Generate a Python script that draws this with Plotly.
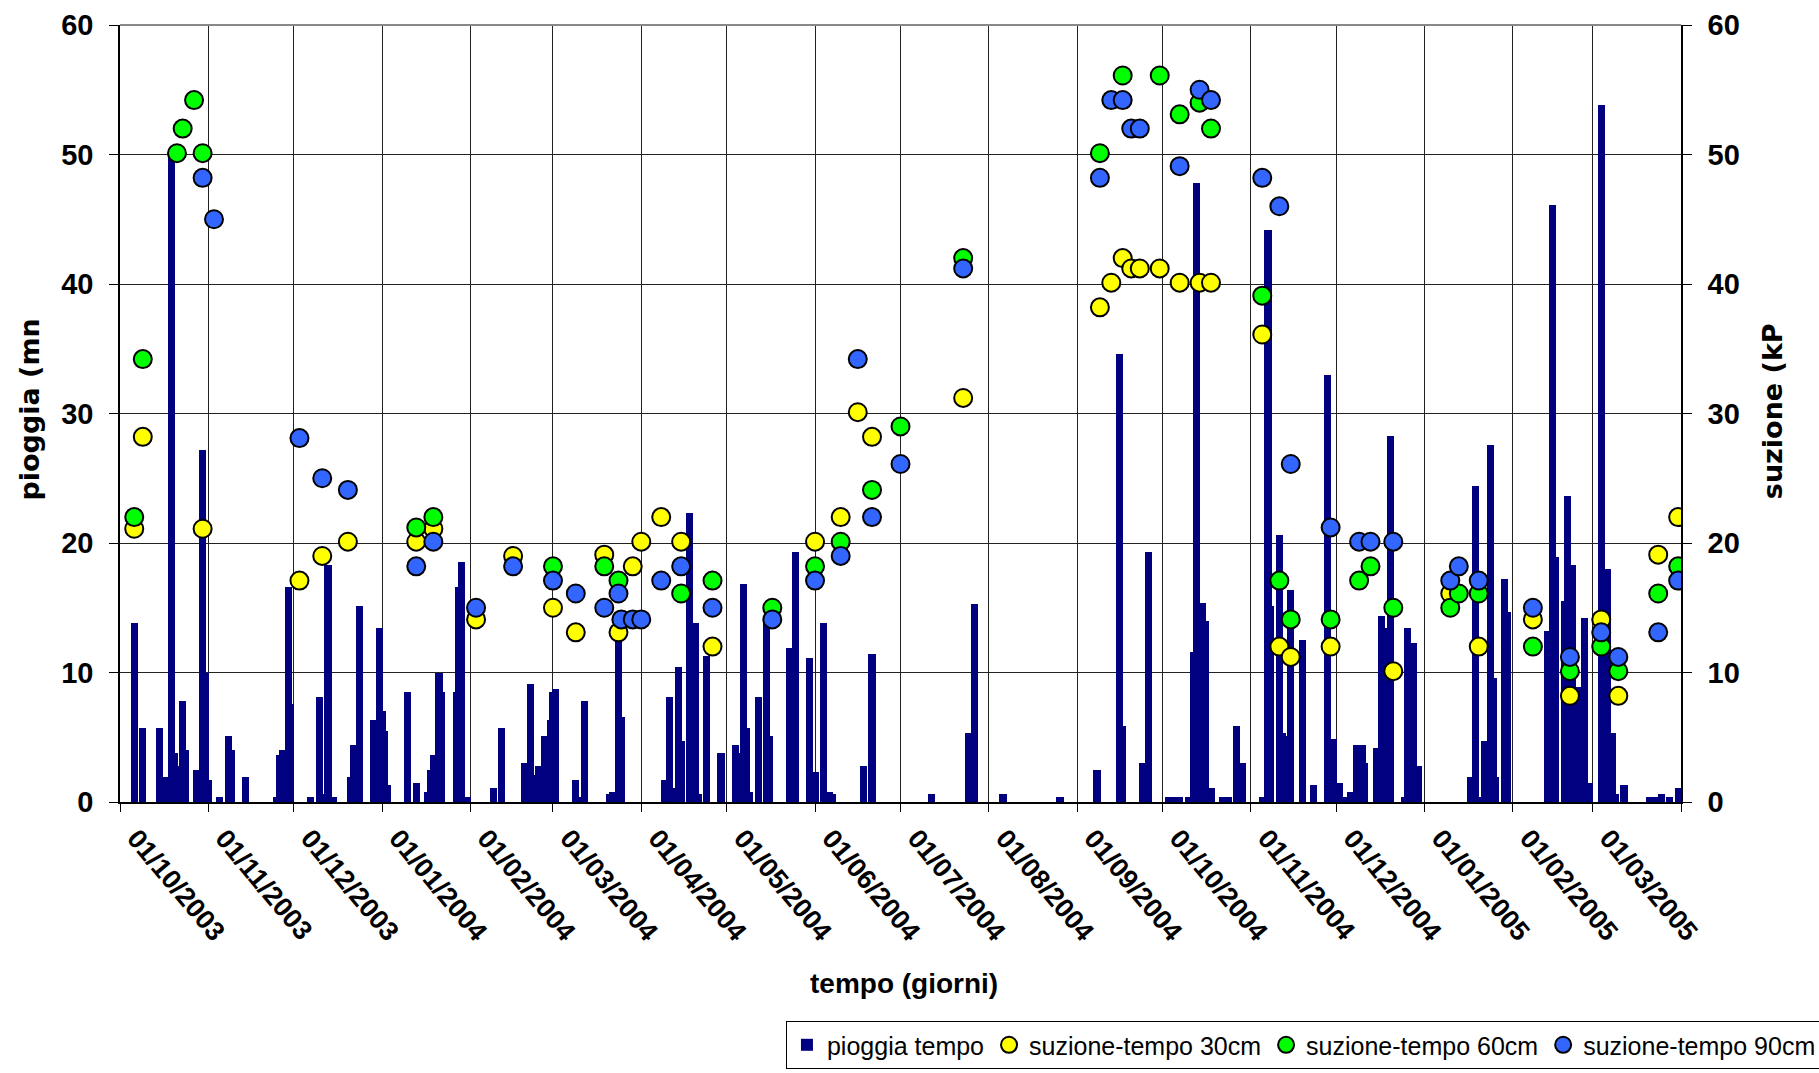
import pandas as pd
import plotly.graph_objects as go

START = "2003-10-01"

# rainfall bars: day number (days since 01/10/2003) and mm
rain_day = [5, 8, 14, 16, 18, 19, 20, 22, 23, 27, 29, 30, 31, 35, 38, 39, 44,
            55, 56, 57, 59, 60, 67, 70, 71, 73, 75, 81, 82, 84, 89, 91, 92, 93, 94,
            101, 104, 108, 109, 110, 112, 113, 118, 119, 120, 122, 131, 134,
            142, 144, 146, 147, 149, 151, 152, 153, 160, 161, 163, 172, 173, 175, 176,
            191, 193, 194, 196, 197, 200, 202, 203, 206, 211, 216, 217, 219, 220, 221,
            224, 227, 228, 235, 237, 242, 244, 247, 249, 250, 261, 264, 285,
            298, 300, 310, 330, 343, 351, 352, 359, 361, 368, 370, 372, 375,
            377, 378, 380, 381, 383, 387, 389, 392, 394, 401, 403, 404, 407, 408, 409,
            411, 415, 419, 424, 426, 428, 430, 432, 434, 436, 437, 441, 443, 444, 446,
            451, 452, 454, 456, 474, 476, 477, 479, 481, 482, 483, 486, 487,
            501, 503, 504, 507, 508, 510, 511, 512, 514, 516, 520, 522, 524, 525, 528,
            537, 539, 541, 544, 547]
rain_mm = [13.8, 5.7, 5.7, 1.9, 50.0, 3.8, 2.75, 7.8, 4.0, 2.5, 27.2, 10.0, 1.7, 0.4, 5.1, 4.0, 1.9,
           0.4, 3.6, 4.0, 16.6, 7.6, 0.4, 8.1, 0.6, 18.3, 0.4, 1.9, 4.4, 15.1, 6.3, 13.4, 7.0, 5.5, 1.3,
           8.5, 1.5, 0.8, 2.5, 3.6, 10.0, 8.5, 8.5, 16.6, 18.5, 0.4, 1.1, 5.7,
           3.0, 9.1, 2.1, 2.75, 5.1, 6.3, 8.5, 8.7, 1.7, 0.4, 7.8, 0.6, 0.8, 14.2, 6.6,
           1.7, 8.1, 1.05, 10.4, 4.7, 22.3, 13.8, 0.6, 11.3, 3.8, 4.4, 3.8, 16.8, 5.7, 0.8,
           8.1, 14.2, 5.1, 11.9, 19.3, 11.1, 2.3, 13.8, 0.8, 0.6, 2.75, 11.4, 0.6,
           5.3, 15.3, 0.6, 0.4, 2.5, 34.6, 5.9, 3.0, 19.3, 0.4, 0.4, 0.4, 0.4,
           11.6, 47.8, 15.4, 14.0, 1.05, 0.4, 0.4, 5.9, 3.0, 0.4, 44.2, 15.1, 20.6, 5.3, 5.1,
           16.4, 12.5, 1.3, 33.0, 4.9, 1.5, 0.4, 0.8, 4.4, 4.4, 3.0, 4.2, 14.4, 13.4, 28.3,
           0.4, 13.4, 12.3, 2.75, 1.9, 24.4, 0.4, 4.7, 27.6, 9.6, 1.9, 17.2, 14.7,
           13.2, 46.1, 18.9, 15.5, 23.6, 18.3, 3.8, 8.9, 14.2, 1.5, 53.8, 18.0, 5.3, 0.6, 1.3,
           0.4, 0.4, 0.6, 0.4, 1.05]

# suction at 30 cm (kPa)
s30_day = [5, 8, 29, 63, 71, 80, 104, 110, 125, 138, 152, 160, 170, 175, 180, 183, 190, 197,
           208, 244, 253, 259, 264, 296, 344, 348, 352, 355, 358, 365, 372, 379, 383,
           401, 407, 411, 425, 447, 467, 477, 496, 509, 520, 526, 540, 547]
s30_val = [21.1, 28.2, 21.1, 17.1, 19.0, 20.1, 20.1, 21.1, 14.1, 19.0, 15.0, 13.1, 19.1, 13.1,
           18.2, 20.1, 22.0, 20.1, 12.0, 20.1, 22.0, 30.1, 28.2, 31.2, 38.2, 40.1, 42.0, 41.2,
           41.2, 41.2, 40.1, 40.1, 40.1, 36.1, 12.0, 11.2, 12.0, 10.1, 16.1, 12.0, 14.1, 8.2,
           14.1, 8.2, 19.1, 22.0]

# suction at 60 cm (kPa)
s60_day = [5, 8, 20, 22, 26, 29, 104, 110, 152, 170, 175, 197, 208, 229, 244, 253, 264, 274,
           296, 344, 352, 365, 372, 379, 383, 401, 407, 411, 425, 435, 439, 447,
           467, 470, 477, 496, 509, 520, 526, 540, 547]
s60_val = [22.0, 34.2, 50.1, 52.0, 54.2, 50.1, 21.2, 22.0, 18.2, 18.2, 17.1, 16.1, 17.1, 15.0,
           18.2, 20.1, 24.1, 29.0, 42.0, 50.1, 56.1, 56.1, 53.1, 54.0, 52.0, 39.1, 17.1, 14.1,
           14.1, 17.1, 18.2, 15.0, 15.0, 16.1, 16.1, 12.0, 10.1, 12.0, 10.1, 16.1, 18.2]

# suction at 90 cm (kPa)
s90_day = [29, 33, 63, 71, 80, 104, 110, 125, 138, 152, 160, 170, 175, 176, 180, 183, 190, 197,
           208, 229, 244, 253, 259, 264, 274, 296, 344, 348, 352, 355, 358, 372, 379, 383,
           401, 407, 411, 425, 435, 439, 447, 467, 470, 477, 496, 509, 520, 526, 540, 547]
s90_val = [48.2, 45.0, 28.1, 25.0, 24.1, 18.2, 20.1, 15.0, 18.2, 17.1, 16.1, 15.0, 16.1, 14.1,
           14.1, 14.1, 17.1, 18.2, 15.0, 14.1, 17.1, 19.0, 34.2, 22.0, 26.1, 41.2, 48.2, 54.2,
           54.2, 52.0, 52.0, 49.1, 55.0, 54.2, 48.2, 46.0, 26.1, 21.2, 20.1, 20.1, 20.1, 17.1,
           18.2, 17.1, 15.0, 11.2, 13.1, 11.2, 13.1, 17.1]

month_ticks = pd.date_range("2003-10-01", "2005-04-01", freq="MS")
tick_text = [d.strftime("%d/%m/%Y") for d in month_ticks[:-1]] + [""]


def to_date(days):
    return pd.Timestamp(START) + pd.to_timedelta(days, unit="D")


fig = go.Figure()
fig.add_trace(go.Bar(
    x=to_date(rain_day), y=rain_mm, name="pioggia tempo",
    width=2.5 * 86400000, marker=dict(color="#000080", line=dict(width=0)),
))
for name, d, v, col in [
    ("suzione-tempo 30cm", s30_day, s30_val, "#FFFF00"),
    ("suzione-tempo 60cm", s60_day, s60_val, "#00FF00"),
    ("suzione-tempo 90cm", s90_day, s90_val, "#3366FF"),
]:
    fig.add_trace(go.Scatter(
        x=to_date(d), y=v, name=name, mode="markers", yaxis="y2",
        marker=dict(size=18, color=col, line=dict(color="black", width=2)),
    ))

SANS = "Liberation Sans, Arial, sans-serif"
tick_font = dict(family=SANS, size=29, color="black", weight="bold")

fig.update_layout(
    width=1819, height=1073,
    margin=dict(l=120, r=138, t=25, b=271, autoexpand=False),
    paper_bgcolor="white", plot_bgcolor="white",
    showlegend=True,
    bargap=0,
    xaxis=dict(
        type="date", range=[START, "2005-04-01"], automargin=False,
        tickmode="array", tickvals=month_ticks, ticktext=tick_text,
        tickangle=50, tickfont=dict(family=SANS, size=27, color="black", weight="bold"),
        ticklabelshift=16,
        ticks="outside", ticklen=8, tickcolor="black",
        showgrid=True, gridcolor="#222222", gridwidth=1,
        showline=True, linecolor="black", linewidth=1.5,
        zeroline=False,
    ),
    yaxis=dict(
        range=[0, 60], tickvals=[0, 10, 20, 30, 40, 50, 60], automargin=False,
        ticks="outside", ticklen=9, tickcolor="black", tickfont=tick_font,
        ticklabelstandoff=10,
        showgrid=True, gridcolor="#222222", gridwidth=1,
        showline=True, linecolor="black", linewidth=1.5, zeroline=False,
    ),
    yaxis2=dict(
        range=[0, 60], tickvals=[0, 10, 20, 30, 40, 50, 60], overlaying="y", side="right",
        automargin=False,
        ticks="outside", ticklen=9, tickcolor="black", tickfont=tick_font,
        ticklabelstandoff=10,
        showgrid=False, showline=True, linecolor="black", linewidth=1.5, zeroline=False,
    ),
    legend=dict(
        orientation="h", x=1.0903, y=-0.2819, xanchor="right", yanchor="top",
        bordercolor="black", borderwidth=1, bgcolor="white",
        font=dict(family=SANS, size=25, color="black"),
        itemwidth=30,
    ),
    shapes=[dict(type="line", xref="paper", yref="paper", x0=0, x1=1, y0=1, y1=1,
                 line=dict(color="#888888", width=2))],
    annotations=[
        dict(text="pioggia (mn", xref="paper", yref="paper", x=-0.0577, y=0.505,
             textangle=-90, showarrow=False, xanchor="center", yanchor="middle",
             font=dict(family="DejaVu Sans, sans-serif", size=27, color="black", weight="bold")),
        dict(text="suzione (kP", xref="paper", yref="paper", x=1.0583, y=0.503,
             textangle=-90, showarrow=False, xanchor="center", yanchor="middle",
             font=dict(family="DejaVu Sans, sans-serif", size=27, color="black", weight="bold")),
        dict(text="tempo (giorni)", xref="paper", yref="paper", x=0.5022, y=-0.2342,
             showarrow=False, xanchor="center", yanchor="middle",
             font=dict(family=SANS, size=28, color="black", weight="bold")),
    ],
)

fig.write_html("out.html")
